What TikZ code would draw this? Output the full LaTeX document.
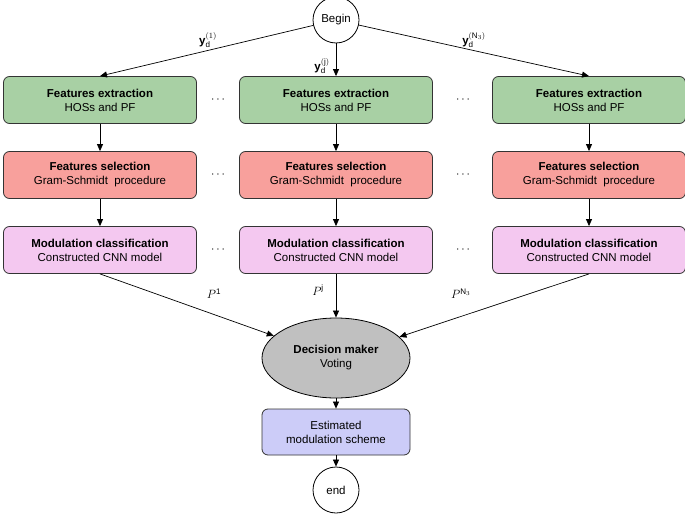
\documentclass[tikz,border=0pt]{standalone}
\usepackage{fontspec}
\setmainfont{Liberation Sans}
\usetikzlibrary{shapes.geometric,arrows.meta}
\definecolor{cg}{HTML}{A8D0A4}
\definecolor{cr}{HTML}{F8A09C}
\definecolor{cp}{HTML}{F4C8F0}
\definecolor{cgr}{HTML}{C0C0C0}
\definecolor{cb}{HTML}{CCCCF8}
\begin{document}
\begin{tikzpicture}[x=1pt,y=-1pt,
 box/.style={draw=black!80,line width=0.8pt,rounded corners=6pt,minimum width=193pt,minimum height=47pt,align=center,font=\fontsize{11.5}{14}\selectfont},
 arr/.style={-{Triangle[length=7pt,width=6pt]},line width=0.7pt},
 lab/.style={font=\fontsize{11.5}{13}\selectfont}]
\useasboundingbox (0,0) rectangle (685,524);
\node[circle,draw,line width=0.8pt,minimum size=46pt,inner sep=0,font=\fontsize{11.5}{13}\selectfont] (b) at (336,20) {Begin};
\foreach \i/\x in {1/100,2/336,3/589}{
 \node[box,fill=cg] (fe\i) at (\x,100) {\textbf{Features extraction}\\HOSs and PF};
 \node[box,fill=cr] (fs\i) at (\x,175) {\textbf{Features selection}\\Gram-Schmidt\ \ procedure};
 \node[box,fill=cp] (mc\i) at (\x,250) {\textbf{Modulation classification}\\Constructed CNN model};
 \draw[arr] (fe\i) -- (fs\i);
 \draw[arr] (fs\i) -- (mc\i);
}
\foreach \y in {100,175,250}{
 \node[lab] (d1\y) at (218,\y) {$\cdots$};
 \node[lab] (d2\y) at (463,\y) {$\cdots$};
}
\node[ellipse,draw,line width=0.8pt,fill=cgr,minimum width=148pt,minimum height=80pt,align=center,font=\fontsize{11.5}{14}\selectfont] (dm) at (336,358) {\textbf{Decision maker}\\Voting};
\node[box,fill=cb,minimum width=148pt,minimum height=46pt] (es) at (336,432) {Estimated\\modulation scheme};
\node[circle,draw,line width=0.8pt,minimum size=46pt,inner sep=0,font=\fontsize{11.5}{13}\selectfont] (e) at (336,490) {end};
\draw[arr] (b) -- (fe1.north);
\draw[arr] (b) -- (fe2.north);
\draw[arr] (b) -- (fe3.north);
\draw[arr] (mc1.south) -- (dm);
\draw[arr] (mc2.south) -- (dm);
\draw[arr] (mc3.south) -- (dm);
\draw[arr] (dm) -- (es);
\draw[arr] (es) -- (e);
\node[lab] (l1) at (208,40) {$\mathbf{y}_{\mathrm{d}}^{(1)}$};
\node[lab] (l2) at (322,66) {$\mathbf{y}_{\mathrm{d}}^{(\mathrm{j})}$};
\node[lab] (l3) at (474,40) {$\mathbf{y}_{\mathrm{d}}^{(\mathrm{N}_3)}$};
\node[lab] (p1) at (214,294) {$P^{\mathrm{1}}$};
\node[lab] (p2) at (318,290) {$P^{\mathrm{j}}$};
\node[lab] (p3) at (461,294) {$P^{\mathrm{N}_3}$};
\end{tikzpicture}
\end{document}
